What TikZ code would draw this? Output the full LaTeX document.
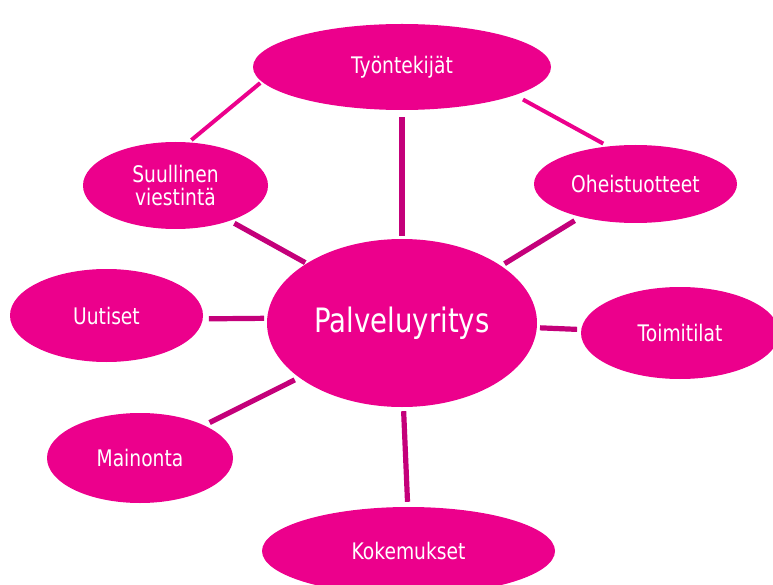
\documentclass[tikz,border=0pt]{standalone}
\usepackage{fontspec}
\newfontfamily\diafont[FakeStretch=0.82]{DejaVu Sans}
\usetikzlibrary{shapes.geometric}
\definecolor{fillmag}{RGB}{236,0,140}
\definecolor{linemag}{RGB}{196,0,122}
\tikzset{
  bubble/.style={ellipse, fill=fillmag, draw=none, inner sep=0pt, text=white,
    font=\diafont\fontsize{22.8}{23.5}\selectfont, align=center},
  thickline/.style={draw=linemag, line width=5.2pt, line cap=butt},
  thinline/.style={draw=fillmag, line width=4pt, line cap=butt}
}
\begin{document}
\begin{tikzpicture}[x=1pt,y=-1pt]
\useasboundingbox (0,0) rectangle (773,585);
\begin{scope}
\clip (0,0) rectangle (773,585);
\node[bubble, minimum width=270pt, minimum height=168pt, font=\diafont\fontsize{33.6}{34}\selectfont] (pal) at (402,323) {Palveluyritys};
\node[bubble, minimum width=298pt, minimum height=86pt] (tyo) at (402,67) {Työntekijät};
\node[bubble, minimum width=185pt, minimum height=87pt] (suu) at (175.5,185.5) {Suullinen\\viestintä};
\node[bubble, minimum width=203pt, minimum height=78pt] (ohe) at (635.5,184) {Oheistuotteet};
\node[bubble, minimum width=193pt, minimum height=93pt] (uut) at (106.5,315.5) {Uutiset};
\node[bubble, minimum width=198pt, minimum height=92pt] (toi) at (680,333) {Toimitilat};
\node[bubble, minimum width=186pt, minimum height=90pt] (mai) at (140,458) {Mainonta};
\node[bubble, minimum width=293pt, minimum height=88pt] (kok) at (408.5,551) {Kokemukset};

\draw[thinline, shorten <=2pt, shorten >=3.5pt] (tyo.186.5) -- (suu.73.8);
\draw[thinline, shorten <=9pt, shorten >=5.5pt] (tyo.346.9) -- (ohe.126);
\draw[thickline, shorten <=7pt, shorten >=3pt] (tyo.south) -- (pal.north);
\draw[thickline, shorten <=5pt, shorten >=1.5pt] (suu.327.8) -- (pal.148.3);
\draw[thickline, shorten <=7pt, shorten >=4pt] (ohe.211.9) -- (pal.30.7);
\draw[thickline, shorten <=6pt, shorten >=3pt] (uut.358.6) -- (pal.178.3);
\draw[thickline, shorten <=3pt, shorten >=4pt] (pal.358.3) -- (toi.178.3);
\draw[thickline, shorten <=6pt, shorten >=5pt] (mai.27.9) -- (pal.208);
\draw[thickline, shorten <=4pt, shorten >=5pt] (pal.271.3) -- (kok.91.8);
\end{scope}
\end{tikzpicture}
\end{document}
